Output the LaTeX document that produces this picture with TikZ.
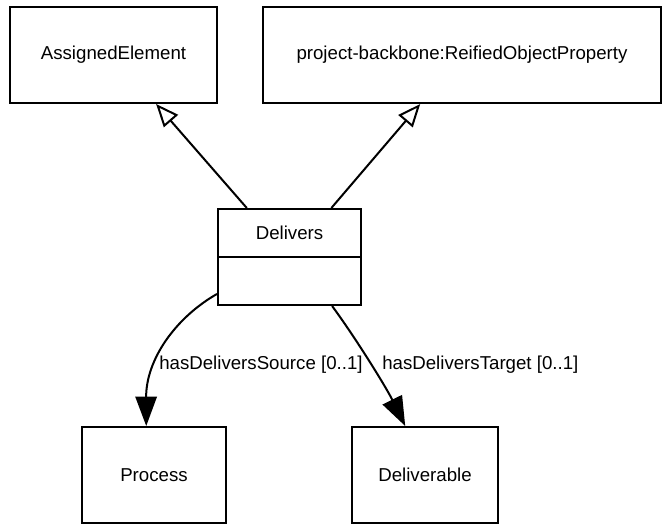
\documentclass[tikz,border=0pt]{standalone}
\usepackage{fontspec}
\setmainfont{Liberation Sans}
\usetikzlibrary{arrows.meta}

\begin{document}
\begin{tikzpicture}[x=0.75pt, y=-0.75pt,
    classbox/.style={draw, line width=1.5pt, fill=white, inner sep=0pt, font=\fontsize{14}{16}\selectfont},
    rolelabel/.style={inner sep=0pt, font=\fontsize{14}{16}\selectfont},
    generalize/.style={line width=1.5pt, -{Triangle[open, length=17pt, width=14pt, fill=white]}},
    assoc/.style={line width=1.5pt, -{Triangle[length=22pt, width=16pt]}}]

    % 0. Khung ảnh
    \useasboundingbox (0,0) rectangle (663,525);

    % 1. Hai lớp cha
    \node[classbox, minimum width=155.25pt, minimum height=72pt] (assigned) at (113.5,55) {AssignedElement};
    \node[classbox, minimum width=298.5pt, minimum height=72pt] (reified) at (462,55) {project-backbone:ReifiedObjectProperty};

    % 2. Lớp Delivers (hai ngăn)
    \node[classbox, minimum width=107.25pt, minimum height=72pt] (delivers) at (289.5,257) {};
    \draw[line width=1.5pt] (delivers.west) -- (delivers.east);
    \node[rolelabel] (delname) at (289.5,233) {Delivers};

    % 3. Hai lớp đích
    \node[classbox, minimum width=108pt, minimum height=72pt] (process) at (154,475) {Process};
    \node[classbox, minimum width=109.5pt, minimum height=72pt] (deliverable) at (425,475) {Deliverable};

    % 4. Quan hệ kế thừa
    \draw[generalize] (delivers) -- (assigned);
    \draw[generalize] (delivers) -- (reified);

    % 5. Quan hệ liên kết và nhãn vai trò
    \draw[assoc] (delivers.207) .. controls (175,318) and (146,360) .. (process.99.5);
    \draw[assoc] (delivers.311) .. controls (355,337) and (386,387) .. (deliverable.112.6);

    \node[rolelabel, anchor=west] (srcrole) at (159,365) {hasDeliversSource [0..1]};
    \node[rolelabel, anchor=west] (tgtrole) at (382,365) {hasDeliversTarget [0..1]};

\end{tikzpicture}
\end{document}
